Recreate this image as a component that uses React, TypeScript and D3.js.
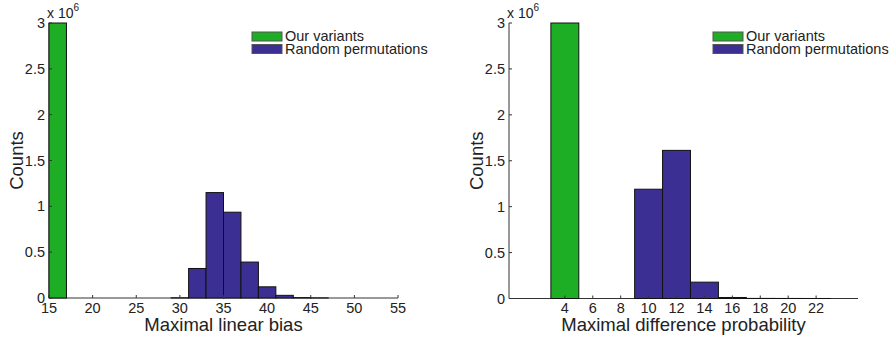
import React from "react";
import * as d3 from "d3";

// bin centres (bins are 2 wide)
const biasBins = d3.range(16, 56, 2);
const biasOurs = [3.0e6, 0, 0, 0, 0, 0, 0, 0, 0, 0, 0, 0, 0, 0, 0, 0, 0, 0, 0, 0];
const biasRandom = [0, 0, 0, 0, 0, 0, 0, 0.002e6, 0.322e6, 1.15e6, 0.936e6, 0.392e6, 0.122e6, 0.029e6, 0.004e6, 0.001e6, 0, 0, 0, 0];
const biasTicks = [15, 20, 25, 30, 35, 40, 45, 50, 55];

const diffBins = [4, 6, 8, 10, 12, 14, 16, 18, 20, 22];
const diffOurs = [3.0e6, 0, 0, 0, 0, 0, 0, 0, 0, 0];
const diffRandom = [0, 0, 0, 1.19e6, 1.613e6, 0.178e6, 0.011e6, 0.001e6, 0.0005e6, 0.0002e6];
const diffTicks = [4, 6, 8, 10, 12, 14, 16, 18, 20, 22];

const countTicks = [0, 0.5, 1, 1.5, 2, 2.5, 3];
const seriesNames = ["Our variants", "Random permutations"];
const seriesColors = ["#1eae25", "#3c2f93"];

const font = "'Liberation Sans', Arial, Helvetica, sans-serif";

type Props = {
  left: number;
  right: number;
  top: number;
  bottom: number;
  domain: [number, number];
  bins: number[];
  series: number[][];
  ticks: number[];
  xLabel: string;
  legendX: number;
};

const Histogram = ({ left, right, top, bottom, domain, bins, series, ticks, xLabel, legendX }: Props) => {
  const x = d3.scaleLinear().domain(domain).range([left, right]);
  const y = d3.scaleLinear().domain([0, 3e6]).range([bottom, top]);
  const axisColor = "#333";

  return (
    <g fontFamily={font} fill="#222">
      {/* axes */}
      <line x1={left} x2={right} y1={bottom} y2={bottom} stroke={axisColor} strokeWidth={1} />
      <line x1={left} x2={left} y1={top} y2={bottom} stroke={axisColor} strokeWidth={1} />

      {/* bars */}
      {series.map((vals, si) =>
        vals.map((v, i) => (
          <rect
            key={`${si}-${i}`}
            x={x(bins[i] - 1)}
            y={y(v)}
            width={x(bins[i] + 1) - x(bins[i] - 1)}
            height={bottom - y(v)}
            fill={seriesColors[si]}
            stroke="#111"
            strokeWidth={1}
          />
        ))
      )}

      {/* x ticks */}
      {ticks.map(t => (
        <g key={`xt-${t}`}>
          <line x1={x(t)} x2={x(t)} y1={bottom} y2={bottom - 3} stroke={axisColor} />
          <text x={x(t)} y={313} textAnchor="middle" fontSize={14.5}>{t}</text>
        </g>
      ))}

      {/* y ticks */}
      {countTicks.map(t => (
        <g key={`yt-${t}`}>
          <line x1={left} x2={left + 3} y1={y(t * 1e6)} y2={y(t * 1e6)} stroke={axisColor} />
          <text x={left - 4} y={y(t * 1e6) + 5} textAnchor="end" fontSize={14.5}>{t}</text>
        </g>
      ))}
      <text x={left - 2} y={18} fontSize={14}>
        x 10<tspan dy={-7} fontSize={10}>6</tspan>
      </text>

      {/* labels */}
      <text x={(left + right) / 2} y={331} textAnchor="middle" fontSize={18.5}>{xLabel}</text>
      <text transform={`translate(${left - 26.5},${(top + bottom) / 2}) rotate(-90)`} textAnchor="middle" fontSize={18.5}>Counts</text>

      {/* legend */}
      {seriesNames.map((name, i) => (
        <g key={name}>
          <rect x={legendX} y={32 + i * 12.5} width={30} height={9} fill={seriesColors[i]} stroke="#555" />
          <text x={legendX + 33} y={41 + i * 12.5} fontSize={14.5}>{name}</text>
        </g>
      ))}
    </g>
  );
};

export default function App() {
  return (
    <svg width={894} height={337} style={{ position: "absolute", left: 0, top: 0, background: "#fff" }}>
      <Histogram
        left={49}
        right={398}
        top={23}
        bottom={298}
        domain={[15, 55]}
        bins={biasBins}
        series={[biasOurs, biasRandom]}
        ticks={biasTicks}
        xLabel="Maximal linear bias"
        legendX={252}
      />
      <Histogram
        left={509}
        right={858}
        top={23}
        bottom={298.5}
        domain={[0, 25]}
        bins={diffBins}
        series={[diffOurs, diffRandom]}
        ticks={diffTicks}
        xLabel="Maximal difference probability"
        legendX={713}
      />
    </svg>
  );
}
